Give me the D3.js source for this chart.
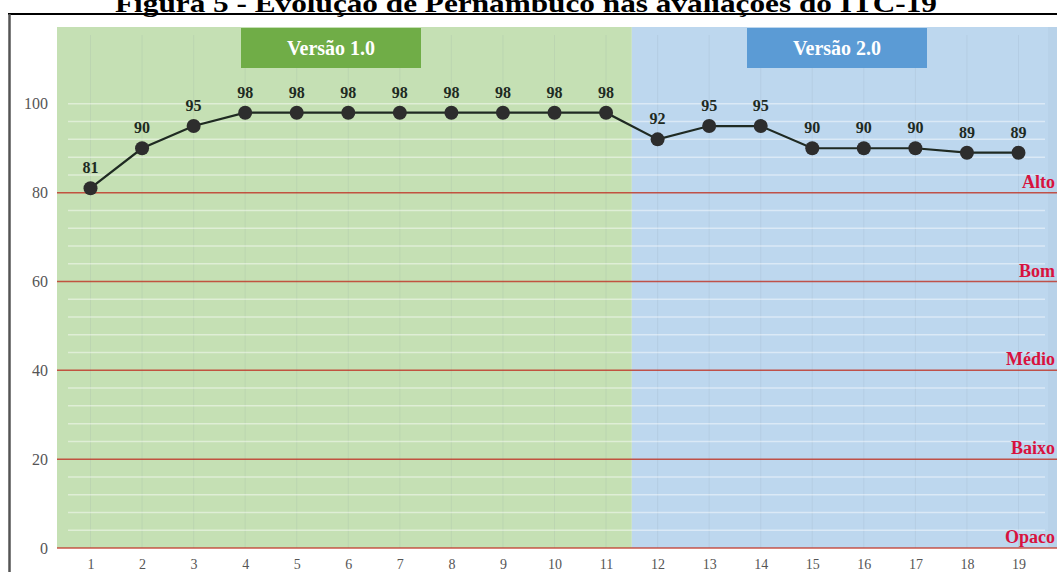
<!DOCTYPE html>
<html>
<head>
<meta charset="utf-8">
<script src="https://cdn.jsdelivr.net/npm/d3@7"></script>
<style>
  html, body { margin: 0; padding: 0; background: #fff; }
  svg { display: block; }
</style>
</head>
<body>
<svg id="chart" width="1057" height="572"></svg>
<script>
// Avaliações (1..19) e pontuação de Pernambuco no ITC-19
const avaliacoes = [1, 2, 3, 4, 5, 6, 7, 8, 9, 10, 11, 12, 13, 14, 15, 16, 17, 18, 19];
const pontuacao  = [81, 90, 95, 98, 98, 98, 98, 98, 98, 98, 98, 92, 95, 95, 90, 90, 90, 89, 89];
const versoes    = [
  { nome: "Versão 1.0", inicio: 1,  fim: 11 },
  { nome: "Versão 2.0", inicio: 12, fim: 19 }
];
const faixas       = [0, 20, 40, 60, 80];
const faixaNomes   = ["Opaco", "Baixo", "Médio", "Bom", "Alto"];
const yTicks       = [0, 20, 40, 60, 80, 100];
const titulo = "Figura 5 - Evolução de Pernambuco nas avaliações do ITC-19";

const svg = d3.select("#chart");
const W = 1057, H = 572;
const plot = { left: 57, right: 1052, top: 27, bottom: 548 };
const serif = "'Liberation Serif', 'Times New Roman', serif";

const x = d3.scalePoint().domain(avaliacoes).range([plot.left, plot.right]).padding(0.65);
const y = d3.scaleLinear().domain([0, 117.3]).range([plot.bottom, plot.top]);

// Título e moldura
svg.append("text")
  .attr("x", 526).attr("y", 12)
  .attr("text-anchor", "middle")
  .attr("font-family", serif).attr("font-weight", "bold").attr("font-size", 26)
  .attr("textLength", 822).attr("lengthAdjust", "spacingAndGlyphs")
  .attr("fill", "#000")
  .text(titulo);

svg.append("line").attr("x1", 8).attr("x2", W).attr("y1", 14).attr("y2", 14)
  .attr("stroke", "#000").attr("stroke-width", 2);
svg.append("line").attr("x1", 9.5).attr("x2", 9.5).attr("y1", 14).attr("y2", H)
  .attr("stroke", "#555").attr("stroke-width", 2.5);

// Fundos das versões
const corFundo = ["#c5e0b4", "#bdd7ee"];
const corCaixa = ["#70ad47", "#5b9bd5"];
versoes.forEach((v, i) => {
  const x0 = i === 0 ? plot.left : (x(v.inicio - 1) + x(v.inicio)) / 2;
  const x1 = i === versoes.length - 1 ? W : (x(v.fim) + x(v.fim + 1)) / 2;
  svg.append("rect")
    .attr("x", x0).attr("y", plot.top)
    .attr("width", x1 - x0).attr("height", plot.bottom - plot.top)
    .attr("fill", corFundo[i]);
});
svg.append("rect").attr("x", 1048).attr("y", plot.top)
  .attr("width", W - 1048).attr("height", plot.bottom - plot.top)
  .attr("fill", "#b4cfe6").attr("opacity", 0.6);

// Linhas verticais suaves em cada avaliação
svg.append("g").selectAll("line").data(avaliacoes).join("line")
  .attr("x1", d => x(d)).attr("x2", d => x(d))
  .attr("y1", plot.top + 8).attr("y2", plot.bottom)
  .attr("stroke", "#7a8f9e").attr("stroke-opacity", 0.12).attr("stroke-width", 1);

// Grade secundária branca
const grade = d3.range(4, 101, 4).filter(v => faixas.indexOf(v) < 0);
svg.append("g").selectAll("line").data(grade).join("line")
  .attr("x1", 68).attr("x2", 1045)
  .attr("y1", d => y(d)).attr("y2", d => y(d))
  .attr("stroke", "#ffffff").attr("stroke-opacity", 0.45).attr("stroke-width", 1.5);

// Caixas das versões
const caixaCentros = [331, 837];
versoes.forEach((v, i) => {
  const cx = caixaCentros[i];
  svg.append("rect")
    .attr("x", cx - 90).attr("y", 28).attr("width", 180).attr("height", 40)
    .attr("fill", corCaixa[i]);
  svg.append("text")
    .attr("x", cx).attr("y", 55)
    .attr("text-anchor", "middle")
    .attr("font-family", serif).attr("font-weight", "bold").attr("font-size", 20)
    .attr("fill", "#fff")
    .text(v.nome);
});

// Linhas das faixas de classificação
const gFaixas = svg.append("g");
gFaixas.selectAll("line").data(faixas).join("line")
  .attr("x1", plot.left).attr("x2", W)
  .attr("y1", d => y(d)).attr("y2", d => y(d))
  .attr("stroke", "#c0392b").attr("stroke-opacity", 0.85).attr("stroke-width", 1.5);
gFaixas.selectAll("text").data(faixas).join("text")
  .attr("x", 1055).attr("y", d => y(d) - 5)
  .attr("text-anchor", "end")
  .attr("font-family", serif).attr("font-weight", "bold").attr("font-size", 18)
  .attr("fill", "#d8123e")
  .text((d, i) => faixaNomes[i]);

// Eixo Y
const yAxis = d3.axisLeft(y).tickValues(yTicks).tickSize(0).tickPadding(0);
const gy = svg.append("g").attr("transform", "translate(48,0)").call(yAxis);
gy.select(".domain").remove();
gy.selectAll("text")
  .attr("font-family", serif).attr("font-size", 16).attr("fill", "#555");

// Eixo X
const xAxis = d3.axisBottom(x).tickSize(0).tickPadding(0);
const gx = svg.append("g").attr("transform", `translate(0,${plot.bottom + 11})`).call(xAxis);
gx.select(".domain").remove();
gx.selectAll("text")
  .attr("font-family", serif).attr("font-size", 14).attr("fill", "#555");

// Linha da série
const dados = avaliacoes.map((a, i) => ({ a, v: pontuacao[i] }));
svg.append("path")
  .datum(dados)
  .attr("fill", "none")
  .attr("stroke", "#1f2a22").attr("stroke-width", 2.2)
  .attr("d", d3.line().x(d => x(d.a)).y(d => y(d.v)));

svg.append("g").selectAll("circle").data(dados).join("circle")
  .attr("cx", d => x(d.a)).attr("cy", d => y(d.v)).attr("r", 7)
  .attr("fill", "#2d2d2d");

svg.append("g").selectAll("text").data(dados).join("text")
  .attr("x", d => x(d.a)).attr("y", d => y(d.v) - 15)
  .attr("text-anchor", "middle")
  .attr("font-family", serif).attr("font-weight", "bold").attr("font-size", 16)
  .attr("fill", "#1e2a22")
  .text(d => d.v);
</script>
</body>
</html>
